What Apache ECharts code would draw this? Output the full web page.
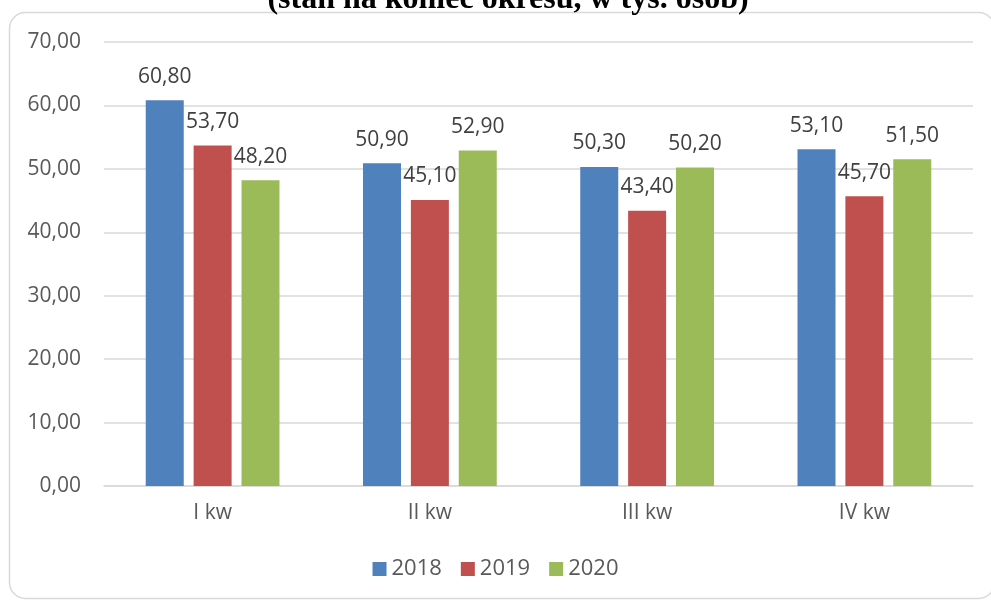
<!DOCTYPE html>
<html><head><meta charset="utf-8">
<script src="https://cdn.jsdelivr.net/npm/echarts@6/dist/echarts.min.js"></script>
<style>html,body{margin:0;padding:0;background:#fff}#c{width:991px;height:601px}</style>
</head><body><div id="c"></div>
<script>
const categories = ['I kw', 'II kw', 'III kw', 'IV kw'];
const seriesNames = ['2018', '2019', '2020'];
const v2018 = [60.8, 50.9, 50.3, 53.1];
const v2019 = [53.7, 45.1, 43.4, 45.7];
const v2020 = [48.2, 52.9, 50.2, 51.5];
const colors = ['#4f81bd', '#c0504d', '#9bbb59'];
const fmt = v => v.toFixed(2).replace('.', ',');
const font = 'Open Sans, Liberation Sans, sans-serif';
const chart = echarts.init(document.getElementById('c'));
const mk = (name, data, i) => ({
  name, type: 'bar', data, barWidth: 38, barGap: '26%',
  itemStyle: { color: colors[i] },
  label: { show: true, position: 'top', distance: 13, formatter: p => fmt(p.value), color: '#404040', fontSize: 21, fontFamily: font }
});
chart.setOption({
  animation: false,
  graphic: [
    { type: 'rect', shape: { x: 9.5, y: 12.5, width: 985, height: 586, r: 16 }, style: { fill: 'none', stroke: '#d9d9d9', lineWidth: 1.5 } },
    { type: 'text', x: 508, y: 16, style: { text: '(stan na koniec okresu, w tys. osób)', font: 'bold 32px "Liberation Serif", serif', fill: '#000', textAlign: 'center', textVerticalAlign: 'bottom' } }
  ],
  grid: { left: 104, right: 18, top: 42, bottom: 115 },
  legend: { data: seriesNames, bottom: 16, left: 'center', itemWidth: 14, itemHeight: 14, itemGap: 19, icon: 'rect',
    textStyle: { color: '#595959', fontSize: 22, fontFamily: font } },
  xAxis: { type: 'category', data: categories,
    axisLine: { lineStyle: { color: '#d9d9d9', width: 1.5 } }, axisTick: { show: false },
    axisLabel: { color: '#595959', fontSize: 21, fontFamily: font, margin: 17 } },
  yAxis: { type: 'value', min: 0, max: 70, interval: 10,
    axisLine: { show: false }, axisTick: { show: false },
    splitLine: { lineStyle: { color: '#d9d9d9', width: 1.5 } },
    axisLabel: { color: '#595959', fontSize: 21, fontFamily: font, margin: 23, formatter: v => fmt(v) } },
  series: [mk(seriesNames[0], v2018, 0), mk(seriesNames[1], v2019, 1), mk(seriesNames[2], v2020, 2)]
});
</script></body></html>
